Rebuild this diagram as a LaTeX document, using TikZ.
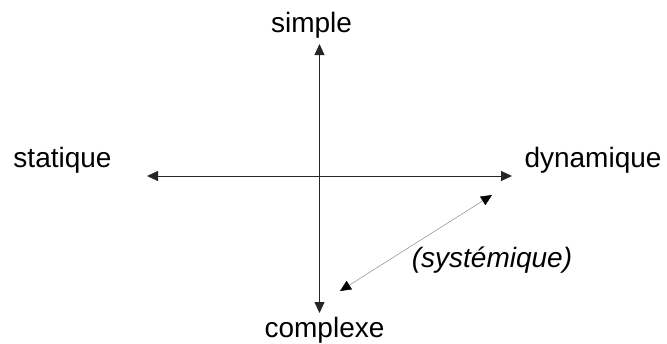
\documentclass[tikz,border=0pt]{standalone}
\usepackage{fontspec}
\setmainfont{Liberation Sans}
\usetikzlibrary{arrows.meta}
\begin{document}
\begin{tikzpicture}[x=1pt,y=-1pt,
  lbl/.style={anchor=base,inner sep=0pt,font=\fontsize{28}{30}\selectfont},
  axis/.style={line width=0.8pt,draw=black!85,-{Triangle[length=11pt,width=10pt]}},
  diag/.style={line width=0.5pt,draw=black!45,{Triangle[length=11pt,width=10pt,fill=black,color=black]}-{Triangle[length=11pt,width=10pt,fill=black,color=black]}}]
\useasboundingbox (0,0) rectangle (667,343);
\coordinate (o) at (319.5,176);
\coordinate (top) at (319.5,44);
\coordinate (bot) at (319.5,313);
\coordinate (lft) at (147,176);
\coordinate (rgt) at (512,176);
\coordinate (d1) at (340,291);
\coordinate (d2) at (492,195);
\node[lbl] (simple) at (311.5,32) {simple};
\node[lbl] (statique) at (62.5,167) {statique};
\node[lbl] (dynamique) at (593,167) {dynamique};
\node[lbl] (complexe) at (324.5,337) {complexe};
\node[lbl,font=\fontsize{28}{30}\selectfont\itshape] (syst) at (492,267) {(systémique)};
\draw[axis] (o) -- (top);
\draw[axis] (o) -- (bot);
\draw[axis] (o) -- (lft);
\draw[axis] (o) -- (rgt);
\draw[diag] (d1) -- (d2);
\end{tikzpicture}
\end{document}
